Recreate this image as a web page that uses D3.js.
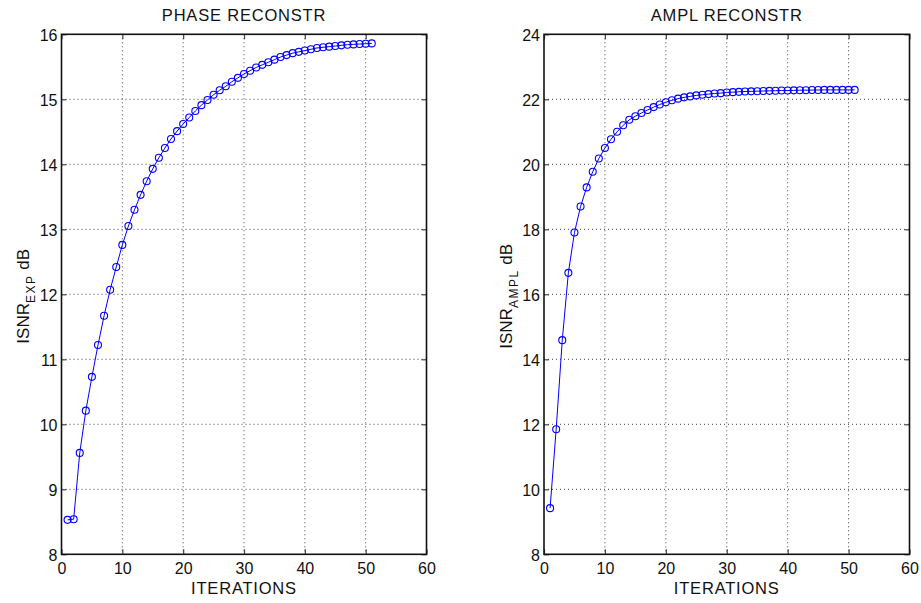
<!DOCTYPE html>
<html>
<head>
<meta charset="utf-8">
<script src="https://cdn.jsdelivr.net/npm/d3@7"></script>
<style>
  body { margin: 0; background: #fff; }
  svg { display: block; font-family: Arial, "Liberation Sans", Helvetica, sans-serif; }
</style>
</head>
<body>
<svg id="chart" width="921" height="603"></svg>
<script>
// iterations 1..51
var iterations = d3.range(1, 52);

var phaseIsnr = [8.53, 8.54, 9.56, 10.21, 10.73, 11.22, 11.67, 12.07, 12.42, 12.76,
    13.05, 13.30, 13.53, 13.74, 13.93, 14.10, 14.25, 14.39, 14.51, 14.62,
    14.72, 14.82, 14.91, 14.99, 15.07, 15.14, 15.20, 15.27, 15.33, 15.39,
    15.44, 15.49, 15.53, 15.57, 15.61, 15.65, 15.68, 15.71, 15.73, 15.75,
    15.77, 15.79, 15.80, 15.81, 15.82, 15.83, 15.84, 15.845, 15.85, 15.855, 15.86];

var amplIsnr = [9.42, 11.85, 14.59, 16.66, 17.90, 18.70, 19.29, 19.77, 20.18, 20.50,
    20.77, 21.00, 21.20, 21.37, 21.48, 21.58, 21.67, 21.76, 21.84, 21.91,
    21.97, 22.02, 22.06, 22.09, 22.12, 22.14, 22.16, 22.18, 22.19, 22.21,
    22.22, 22.23, 22.24, 22.245, 22.25, 22.255, 22.26, 22.265, 22.27, 22.27,
    22.275, 22.28, 22.28, 22.285, 22.285, 22.29, 22.29, 22.29, 22.29, 22.29, 22.29];

var xTicks = [0, 10, 20, 30, 40, 50, 60];
var phaseTicks = [8, 9, 10, 11, 12, 13, 14, 15, 16];
var amplTicks = [8, 10, 12, 14, 16, 18, 20, 22, 24];

var svg = d3.select("#chart");
var plotTop = 34.3, plotBottom = 554.3;

function drawPanel(opts) {
    var x = d3.scaleLinear().domain([0, 60]).range([opts.left, opts.right]);
    var y = d3.scaleLinear().domain(opts.yDomain).range([plotBottom, plotTop]);
    var g = svg.append("g");

    // grid
    g.selectAll(".vgrid").data(xTicks.slice(1, -1)).enter().append("line")
        .attr("x1", function(d) { return x(d); }).attr("x2", function(d) { return x(d); })
        .attr("y1", plotTop).attr("y2", plotBottom)
        .attr("stroke", "#444").attr("stroke-width", 1).attr("stroke-dasharray", "1,3");
    g.selectAll(".hgrid").data(opts.yTicks.slice(1, -1)).enter().append("line")
        .attr("y1", function(d) { return y(d); }).attr("y2", function(d) { return y(d); })
        .attr("x1", opts.left).attr("x2", opts.right)
        .attr("stroke", "#444").attr("stroke-width", 1).attr("stroke-dasharray", "1,3");

    // series
    var line = d3.line()
        .x(function(d, i) { return x(iterations[i]); })
        .y(function(d) { return y(d); });
    g.append("path").datum(opts.values)
        .attr("d", line).attr("fill", "none")
        .attr("stroke", "#0000ff").attr("stroke-width", 1);
    g.selectAll(".pt").data(opts.values).enter().append("circle")
        .attr("cx", function(d, i) { return x(iterations[i]); })
        .attr("cy", function(d) { return y(d); })
        .attr("r", 3.5).attr("fill", "none")
        .attr("stroke", "#0000ff").attr("stroke-width", 1.1);

    // axes (ticks inward on all sides)
    var tk = 5;
    var bot = g.append("g").attr("transform", "translate(0," + plotBottom + ")")
        .call(d3.axisBottom(x).tickValues(xTicks).tickSize(-tk).tickPadding(8).tickFormat(d3.format("d")));
    var topAx = g.append("g").attr("transform", "translate(0," + plotTop + ")")
        .call(d3.axisTop(x).tickValues(xTicks).tickSize(-tk).tickFormat(""));
    var lef = g.append("g").attr("transform", "translate(" + opts.left + ",0)")
        .call(d3.axisLeft(y).tickValues(opts.yTicks).tickSize(-tk).tickPadding(4).tickFormat(d3.format("d")));
    var rig = g.append("g").attr("transform", "translate(" + opts.right + ",0)")
        .call(d3.axisRight(y).tickValues(opts.yTicks).tickSize(-tk).tickFormat(""));
    [bot, topAx, lef, rig].forEach(function(a) {
        a.select(".domain").remove();
        a.selectAll("line").attr("stroke", "#444").attr("stroke-width", 1.2);
        a.selectAll("text").attr("fill", "#111").style("font-size", "16px")
            .style("font-family", "Arial, 'Liberation Sans', sans-serif");
    });
    bot.selectAll("text").attr("dy", "0.71em");
    lef.selectAll("text").attr("dy", "0.36em");

    g.append("rect")
        .attr("x", opts.left).attr("y", plotTop)
        .attr("width", opts.right - opts.left).attr("height", plotBottom - plotTop)
        .attr("fill", "none").attr("stroke", "#111").attr("stroke-width", 1.6);

    var cx = (opts.left + opts.right) / 2;
    g.append("text").attr("x", cx).attr("y", 20.5)
        .attr("text-anchor", "middle").attr("fill", "#111")
        .style("font-size", "16.5px").style("letter-spacing", "0.8px")
        .text(opts.title);
    g.append("text").attr("x", cx).attr("y", 594.3)
        .attr("text-anchor", "middle").attr("fill", "#111")
        .style("font-size", "16.5px").style("letter-spacing", "0.8px")
        .text("ITERATIONS");

    var yl = g.append("text")
        .attr("transform", "translate(" + opts.labelX + "," + ((plotTop + plotBottom) / 2 + 2) + ") rotate(-90)")
        .attr("text-anchor", "middle").attr("fill", "#111")
        .style("font-size", "17px");
    yl.append("tspan").text("ISNR");
    yl.append("tspan").attr("dy", 6).style("font-size", "12px").style("letter-spacing", "1.5px").text(opts.sub);
    yl.append("tspan").attr("dy", -6).text(" dB");
}

drawPanel({
    left: 61.5, right: 426.5, yDomain: [8, 16], yTicks: phaseTicks,
    values: phaseIsnr, title: "PHASE RECONSTR", sub: "EXP", labelX: 29
});
drawPanel({
    left: 544, right: 909.5, yDomain: [8, 24], yTicks: amplTicks,
    values: amplIsnr, title: "AMPL RECONSTR", sub: "AMPL", labelX: 512
});
</script>
</body>
</html>
